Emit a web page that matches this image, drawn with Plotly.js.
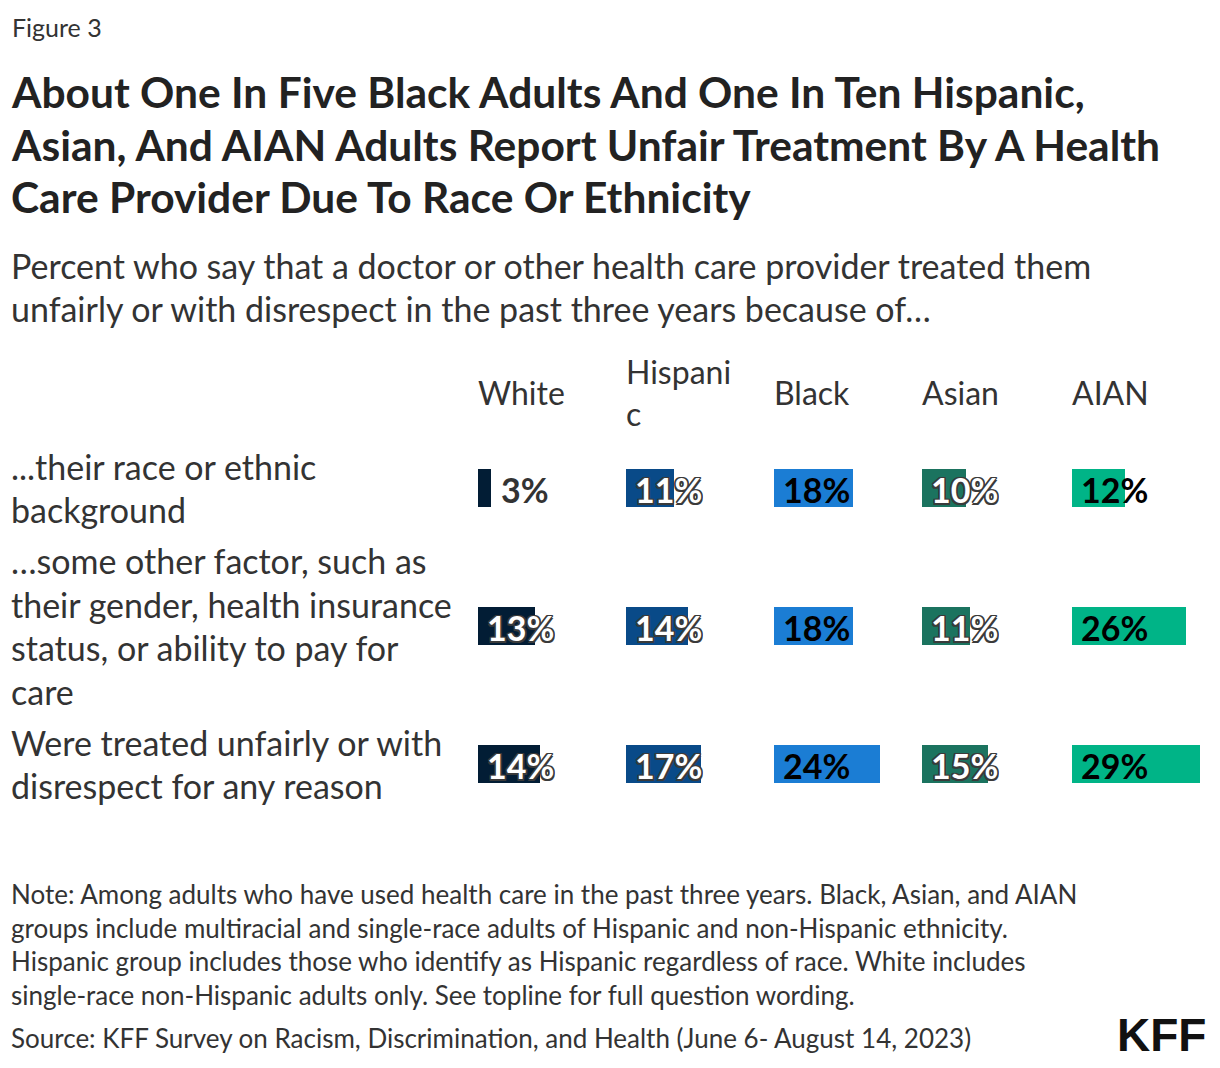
<!DOCTYPE html>
<html>
<head>
<meta charset="utf-8">
<script src="https://cdn.plot.ly/plotly-3.0.1.min.js"></script>
<style>html,body{margin:0;padding:0;background:#fff;}#chart{width:1220px;height:1068px;}</style>
</head>
<body>
<div id="chart"></div>
<script>
// ---- data ----
const groups = ['White', 'Hispanic', 'Black', 'Asian', 'AIAN'];
const groupHeaders = [['White'], ['Hispani', 'c'], ['Black'], ['Asian'], ['AIAN']];
const rowLabels = [
  ['...their race or ethnic', 'background'],
  ['…some other factor, such as', 'their gender, health insurance', 'status, or ability to pay for', 'care'],
  ['Were treated unfairly or with', 'disrespect for any reason']
];
const white = [3, 13, 14];
const hispanic = [11, 14, 17];
const black = [18, 18, 24];
const asian = [10, 11, 15];
const aian = [12, 26, 29];
const seriesValues = [white, hispanic, black, asian, aian];

const titleLines = [
  'About One In Five Black Adults And One In Ten Hispanic,',
  'Asian, And AIAN Adults Report Unfair Treatment By A Health',
  'Care Provider Due To Race Or Ethnicity'
];
const subtitleLines = [
  'Percent who say that a doctor or other health care provider treated them',
  'unfairly or with disrespect in the past three years because of…'
];
const noteLines = [
  'Note: Among adults who have used health care in the past three years. Black, Asian, and AIAN',
  'groups include multiracial and single-race adults of Hispanic and non-Hispanic ethnicity.',
  'Hispanic group includes those who identify as Hispanic regardless of race. White includes',
  'single-race non-Hispanic adults only. See topline for full question wording.'
];
const sourceLine = 'Source: KFF Survey on Racism, Discrimination, and Health (June 6- August 14, 2023)';

// ---- styles ----
const W = 1220, H = 1068;
const FONT = 'Lato, "Source Sans 3", "Noto Sans", sans-serif';
const barColors = ['#021d35', '#094a88', '#1b7dd4', '#1b735f', '#00b487'];
const labelLight = [true, true, false, true, false];
const colStarts = [478, 626, 774, 922, 1072];
const colWidth = 132, axisMax = 30;
const rowTop = 419, rowBottom = 833;
const oc = '#3a3a3a';
const outline = ['-1.5px -1.5px 0 ' + oc, '1.5px -1.5px 0 ' + oc, '-1.5px 1.5px 0 ' + oc, '1.5px 1.5px 0 ' + oc,
  '0 -1.5px 0 ' + oc, '0 1.5px 0 ' + oc, '-1.5px 0 0 ' + oc, '1.5px 0 0 ' + oc].join(', ');
const py = p => 1 - p / H;
const axId = i => (i === 0 ? 'x' : 'x' + (i + 1));

const rows = [0, 1, 2];
const traces = seriesValues.map((vals, i) => ({
  type: 'bar', orientation: 'h', x: vals, y: rows,
  xaxis: axId(i), yaxis: 'y', width: 0.28,
  marker: {color: barColors[i], line: {width: 0}},
  hoverinfo: 'skip', showlegend: false
}));

const layout = {
  width: W, height: H,
  margin: {l: 0, r: 0, t: 0, b: 0, pad: 0},
  paper_bgcolor: '#fff', plot_bgcolor: 'rgba(0,0,0,0)',
  showlegend: false, bargap: 0,
  yaxis: {domain: [py(rowBottom), py(rowTop)], range: [2.5, -0.5], visible: false, fixedrange: true},
  annotations: []
};
seriesValues.forEach((v, i) => {
  layout[i === 0 ? 'xaxis' : 'xaxis' + (i + 1)] = {
    domain: [colStarts[i] / W, (colStarts[i] + colWidth) / W],
    range: [0, axisMax], visible: false, fixedrange: true, anchor: 'y'
  };
});

const A = layout.annotations;
function txt(text, x, yPix, size, opts) {
  A.push(Object.assign({
    text: text, xref: 'paper', yref: 'paper', x: x, y: py(yPix),
    xanchor: 'left', yanchor: 'middle', showarrow: false, align: 'left',
    font: {family: FONT, size: size, color: '#333'}
  }, opts || {}));
}

txt('Figure 3', 10 / W, 27, 25);
titleLines.forEach((t, k) => txt('<b>' + t + '</b>', 9 / W, 92 + k * 52.5, 42.5, {font: {family: FONT, size: 42.5, color: '#222'}}));
subtitleLines.forEach((t, k) => txt(t, 9 / W, 265 + k * 43, 34));
noteLines.forEach((t, k) => txt(t, 9 / W, 894 + k * 33.7, 26));
txt(sourceLine, 9 / W, 1038, 26);
txt('<b>KFF</b>', 1208 / W, 1035, 46, {xanchor: 'right', font: {family: '"Liberation Sans", Arial, sans-serif', size: 46, color: '#111'}});

// column headers
groupHeaders.forEach((lines, i) => {
  lines.forEach((t, k) => {
    A.push({text: t, xref: axId(i) + ' domain', yref: 'paper', x: 0, xshift: -2,
      y: py(392 + (k - (lines.length - 1) / 2) * 42), xanchor: 'left', yanchor: 'middle',
      showarrow: false, font: {family: FONT, size: 32, color: '#333'}});
  });
});

// row labels
rowLabels.forEach((lines, r) => {
  lines.forEach((t, k) => {
    A.push({text: t, xref: 'paper', yref: 'y', x: 9 / W, y: rows[r],
      yshift: -(k - (lines.length - 1) / 2) * 43.5, xanchor: 'left', yanchor: 'middle',
      showarrow: false, align: 'left', font: {family: FONT, size: 34, color: '#333'}});
  });
});

// value labels
seriesValues.forEach((vals, i) => {
  vals.forEach((v, r) => {
    const outside = v < 5;
    const light = !outside && labelLight[i];
    A.push({text: '<b>' + v + '%</b>', xref: axId(i), yref: 'y', x: outside ? v : 0, y: rows[r],
      xshift: outside ? 8 : 7, yshift: -1, xanchor: 'left', yanchor: 'middle', showarrow: false,
      font: {family: FONT, size: 34, color: outside ? '#333' : (light ? '#fff' : '#000'),
        shadow: light ? outline : 'none'}});
  });
});

Plotly.newPlot('chart', traces, layout, {displayModeBar: false, staticPlot: true});
</script>
</body>
</html>
